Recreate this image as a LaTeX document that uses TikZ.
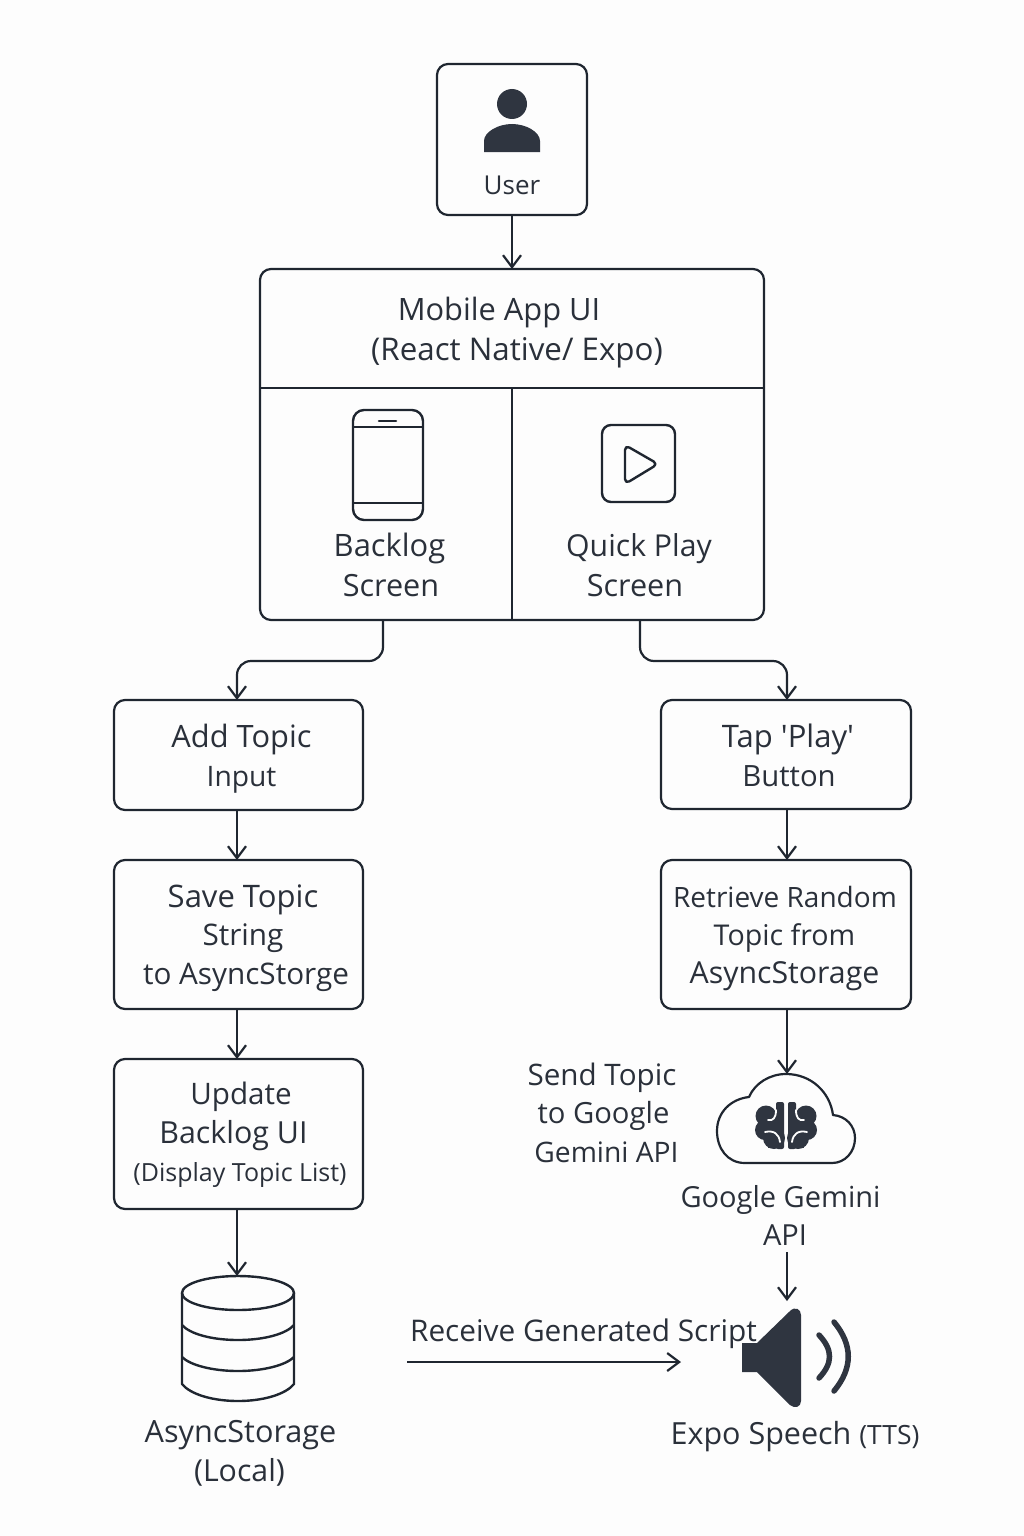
\documentclass[tikz,border=0pt]{standalone}
\usepackage{fontspec}
\setmainfont{Open Sans}
\newfontfamily\plainfont{Open Sans}
\usetikzlibrary{arrows.meta,calc}
\definecolor{ink}{HTML}{1F2630}
\definecolor{icon}{HTML}{2F3540}
\definecolor{txt}{HTML}{2A303A}
\definecolor{paper}{HTML}{FDFDFD}
\newcommand{\tl}[4][29]{\node[lbl,font=\fontsize{#1}{#1}\selectfont] (#2) at (#3) {#4};}
\tikzset{
  lbl/.style={anchor=base,inner sep=0pt,text=txt},
  box/.style={draw=ink,line width=2.2pt,rounded corners=11pt,inner sep=0pt,outer sep=0pt,fill=none},
  conn/.style={draw=ink,line width=2.2pt,-{Straight Barb[length=12pt,width=18pt]}},
  iconline/.style={draw=ink,line width=2.4pt,line join=round}
}
\begin{document}
\begin{tikzpicture}[x=1pt,y=-1pt]
\useasboundingbox[fill=paper] (0,0) rectangle (1024,1536);
% boxes
\node[box,minimum width=150,minimum height=151] (user) at (512,139.5) {};
\node[box,minimum width=504,minimum height=351] (main) at (512,444.5) {};
\node[box,minimum width=249,minimum height=110] (add) at (238.5,755) {};
\node[box,minimum width=250,minimum height=109] (tap) at (786,754.5) {};
\node[box,minimum width=249,minimum height=149] (save) at (238.5,934.5) {};
\node[box,minimum width=250,minimum height=149] (retr) at (786,934.5) {};
\node[box,minimum width=249,minimum height=150] (upd) at (238.5,1134) {};
\draw[draw=ink,line width=2.2pt] (main.west |- 0,388) coordinate (divl) -- (main.east |- 0,388) coordinate (divr);
\draw[draw=ink,line width=2.2pt] (512,388) coordinate (divt) -- (main.south);
% person icon
\fill[icon] (512,104) circle (15);
\fill[icon] (484,152) -- (484,141) .. controls (484,132) and (498,124) .. (512,124) .. controls (526,124) and (540,132) .. (540,141) -- (540,152) -- cycle;
% phone icon
\draw[iconline,rounded corners=11pt] (353,410) rectangle (423,520);
\draw[iconline] (353,427) -- (423,427) (353,503) -- (423,503);
\draw[draw=ink,line width=2.6pt,line cap=round] (379,421) -- (396,421);
% play icon
\draw[iconline,rounded corners=9pt] (602,425) rectangle (675,502);
\draw[iconline,rounded corners=5pt] (625,445) -- (625,484) -- (658,464) -- cycle;
% cloud icon
\draw[ink,line width=2.2pt,line join=round] (745,1163) .. controls (727,1163) and (717,1148) .. (717,1131) .. controls (717,1112) and (731,1099) .. (749,1097) .. controls (755,1083) and (770,1074) .. (786,1074) .. controls (811,1074) and (830,1092) .. (833,1115) .. controls (846,1116) and (855,1126) .. (855,1138) .. controls (855,1152) and (845,1163) .. (832,1163) -- cycle;
\coordinate (cloudtop) at (787,1074);
% brain
\foreach \s/\cx in {1/786,-1/786}{
  \begin{scope}[shift={(\cx,0)},xscale=\s]
    \fill[icon] (-20,1116) circle (10.5);
    \fill[icon] (-21,1130) circle (10);
    \fill[icon] (-12,1138) circle (11);
    \fill[icon,rounded corners=2pt] (-10,1102) rectangle (-2,1149);
    \fill[icon] (-18,1112) rectangle (-3,1148);
    \draw[paper,line width=1.8pt,line cap=round] (-18,1120) .. controls (-13,1121) and (-10,1118) .. (-10,1110);
    \draw[paper,line width=1.8pt,line cap=round] (-21,1132) .. controls (-12,1130) and (-7,1134) .. (-6,1142);
  \end{scope}
}
% database icon
\draw[iconline] (238,1293) ellipse (56 and 17);
\draw[iconline] (182,1293) -- (182,1384) .. controls (190,1394) and (212,1401) .. (238,1401) .. controls (264,1401) and (286,1394) .. (294,1384) -- (294,1293);
\draw[iconline] (182,1325) .. controls (190,1334) and (212,1340) .. (238,1340) .. controls (264,1340) and (286,1334) .. (294,1325);
\draw[iconline] (182,1357) .. controls (190,1365) and (212,1371) .. (238,1371) .. controls (264,1371) and (286,1365) .. (294,1357);
\coordinate (dbtop) at (237,1276);
% speaker
\fill[icon] (742,1343) -- (757,1343) -- (790,1311) .. controls (795,1306) and (801,1309) .. (801,1315) -- (801,1401) .. controls (801,1407) and (795,1409) .. (790,1405) -- (757,1372) -- (742,1372) -- cycle;
\draw[icon,line width=5.5pt,line cap=round] (819,1335) .. controls (833,1350) and (833,1363) .. (819,1378);
\draw[icon,line width=5.5pt,line cap=round] (834,1322) .. controls (853,1345) and (853,1368) .. (834,1391);
\coordinate (spktop) at (787,1301);
% connectors
\draw[conn] (user) -- (main);
\draw[conn,rounded corners=14pt] ([xshift=-129pt]main.south) -- ++(0,41) -| ([xshift=-1.5pt]add.north);
\draw[conn,rounded corners=14pt] ([xshift=128pt]main.south) -- ++(0,41) -| ([xshift=1pt]tap.north);
\draw[conn] ([xshift=-1.5pt]add.south) -- ([xshift=-1.5pt]save.north);
\draw[conn] ([xshift=1pt]tap.south) -- ([xshift=1pt]retr.north);
\draw[conn] ([xshift=-1.5pt]save.south) -- ([xshift=-1.5pt]upd.north);
\draw[conn] ([xshift=-1.5pt]upd.south) -- (dbtop);
\draw[conn] ([xshift=1pt]retr.south) -- (cloudtop);
\coordinate (apibot) at (787,1252);
\draw[conn] (apibot) -- (spktop);
\coordinate (recvl) at (407,1362);
\coordinate (recvr) at (681,1362);
\draw[conn] (recvl) -- (recvr);
% labels
\tl[26]{tUser}{512,194}{User}
\tl[30.8]{tMob}{499,320}{Mobile App UI}
\tl[31.3]{tRN}{517,360.5}{(React Native/ Expo)}
\tl[30.9]{tBack}{389.5,556.5}{Backlog}
\tl[30.6]{tScrA}{391,596.5}{Screen}
\tl[30.2]{tQuick}{639,556.5}{Quick Play}
\tl[30.6]{tScrB}{635,596.5}{Screen}
\tl[30.8]{tAdd}{241.5,747}{Add Topic}
\tl[28.2]{tInp}{241.5,786}{Input}
\tl[31]{tTap}{788,747}{Tap {\plainfont'}Play{\plainfont'}}
\tl[29.3]{tBut}{789,786}{Button}
\tl[31]{tSave}{243,907}{Save Topic}
\tl[29.7]{tStr}{243,945}{String}
\tl[29.7]{tTo}{246,984}{to AsyncStorge}
\tl[28]{tRetr}{785,907}{Retrieve Random}
\tl[28.6]{tFrom}{784.5,945}{Topic from}
\tl[30.3]{tAS}{784.5,983}{AsyncStorage}
\tl[29.6]{tUpd}{241,1104}{Update}
\tl[30.4]{tBU}{233.5,1143}{Backlog UI}
\tl[25]{tDisp}{240,1181}{(Display Topic List)}
\tl[29.6]{tSend}{602,1085}{Send Topic}
\tl[29.2]{tGoo}{603.5,1123}{to Google}
\tl[28.2]{tGem}{606.5,1162}{Gemini API}
\tl{tGG}{780.5,1207}{Google Gemini}
\tl{tAPI}{785,1245}{API}
\tl[29.8]{tRecv}{583.5,1341}{Receive Generated Script}
\node[lbl,font=\fontsize{30.5}{30.5}\selectfont] (tExpo) at (795,1444) {Expo Speech {\fontsize{26.5}{26.5}\selectfont (TTS)}};
\tl[30.6]{tAsync}{240.5,1442}{AsyncStorage}
\tl[30.3]{tLoc}{239.5,1481}{(Local)}
\end{tikzpicture}
\end{document}
